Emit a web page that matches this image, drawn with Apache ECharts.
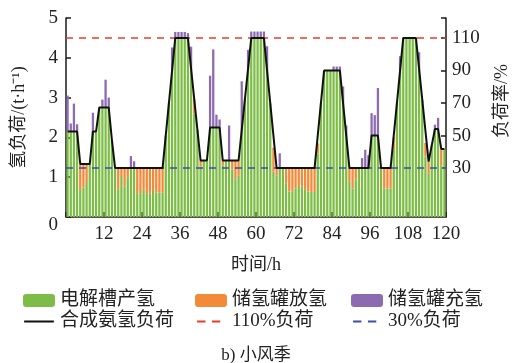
<!DOCTYPE html>
<html>
<head>
<meta charset="utf-8">
<script src="https://cdn.jsdelivr.net/npm/echarts@6/dist/echarts.min.js"></script>
<style>
  html, body { margin: 0; padding: 0; background: #ffffff; }
  #chart { width: 512px; height: 363px; }
</style>
</head>
<body>
<div id="chart"></div>
<script>
// Hourly hydrogen balance over 120 h (small-wind season)
const hours = Array.from({ length: 120 }, (_, i) => i + 1);

// Electrolyzer output serving the load (t/h)
const electrolyzer = [
  2.15, 2.15, 2.15, 2.15, 0.68, 0.74, 0.88, 1.33, 2.15, 2.15,
  2.75, 2.75, 2.75, 2.75, 1.93, 1.23, 0.70, 1.03, 0.77, 1.00,
  1.23, 1.23, 0.60, 0.60, 0.70, 0.60, 0.58, 0.68, 0.62, 0.62,
  0.62, 2.05, 2.86, 3.68, 4.50, 4.50, 4.50, 4.50, 4.50, 3.73,
  2.60, 2.19, 1.27, 1.42, 1.42, 2.25, 2.25, 2.25, 2.25, 1.30,
  1.42, 1.42, 1.20, 0.95, 1.05, 2.19, 2.96, 3.73, 4.50, 4.50,
  4.50, 4.50, 4.50, 3.68, 2.86, 1.14, 1.05, 1.23, 1.23, 0.85,
  0.64, 0.65, 0.72, 0.80, 0.76, 0.70, 0.64, 0.63, 0.63, 1.60,
  2.86, 3.68, 3.68, 3.68, 3.68, 3.68, 3.68, 2.86, 2.05, 0.90,
  0.72, 0.95, 1.23, 1.23, 1.23, 1.23, 2.05, 2.05, 2.05, 1.23,
  0.72, 0.72, 0.72, 1.70, 2.86, 3.68, 4.50, 4.50, 4.50, 4.50,
  4.50, 3.73, 2.95, 1.52, 1.10, 1.80, 2.21, 2.21, 1.30, 1.71
];

// Hydrogen released from the storage tank (t/h)
const tankDischarge = [
  0, 0, 0, 0, 0.65, 0.59, 0.45, 0, 0, 0,
  0, 0, 0, 0, 0, 0, 0.53, 0.20, 0.46, 0.23,
  0, 0, 0.63, 0.63, 0.53, 0.63, 0.65, 0.55, 0.61, 0.61,
  0.61, 0, 0, 0, 0, 0, 0, 0, 0, 0,
  0.36, 0, 0.15, 0, 0, 0, 0, 0, 0, 0.12,
  0, 0, 0.22, 0.47, 0.37, 0, 0, 0, 0, 0,
  0, 0, 0, 0, 0, 0.60, 0.18, 0, 0, 0.38,
  0.59, 0.58, 0.51, 0.43, 0.47, 0.53, 0.59, 0.60, 0.60, 0.25,
  0, 0, 0, 0, 0, 0, 0, 0, 0, 0.33,
  0.51, 0.28, 0, 0, 0, 0, 0, 0, 0, 0,
  0.51, 0.51, 0.51, 0.30, 0, 0, 0, 0, 0, 0,
  0, 0, 0, 0.34, 0.29, 0, 0, 0, 0.41, 0
];

// Surplus hydrogen charged into the storage tank (t/h)
const tankCharge = [
  0.90, 0.20, 0.70, 0.18, 0, 0, 0, 0, 0.47, 0,
  0, 0.20, 0.70, 0.25, 0, 0, 0, 0, 0, 0,
  0.30, 0.17, 0, 0, 0, 0, 0, 0, 0, 0,
  0, 0, 0, 0.58, 0.15, 0.15, 0.15, 0.15, 0.12, 0.55,
  0, 0, 0, 0, 0, 1.30, 1.96, 0.32, 0.20, 0,
  0, 0.88, 0, 0, 0, 1.22, 0, 0.47, 0.16, 0.16,
  0.16, 0.16, 0.16, 0.61, 0, 0, 0, 0.37, 0, 0,
  0, 0, 0, 0, 0, 0, 0, 0, 0, 0,
  0, 0, 0, 0, 0.10, 0.10, 0.10, 0.42, 0.25, 0,
  0, 0, 0, 0.25, 0.46, 0.32, 0.56, 0.51, 1.19, 0,
  0, 0, 0, 0, 0, 0.36, 0, 0, 0, 0,
  0, 0.41, 0, 0, 0, 0, 0.11, 0.28, 0, 0
];

// Hydrogen demand of the ammonia synthesis unit (t/h)
const ammoniaLoad = [
  2.15, 2.15, 2.15, 2.15, 1.33, 1.33, 1.33, 1.33, 2.15, 2.15,
  2.75, 2.75, 2.75, 2.75, 1.93, 1.23, 1.23, 1.23, 1.23, 1.23,
  1.23, 1.23, 1.23, 1.23, 1.23, 1.23, 1.23, 1.23, 1.23, 1.23,
  1.23, 2.05, 2.86, 3.68, 4.50, 4.50, 4.50, 4.50, 4.50, 3.73,
  2.96, 2.19, 1.42, 1.42, 1.42, 2.25, 2.25, 2.25, 2.25, 1.42,
  1.42, 1.42, 1.42, 1.42, 1.42, 2.19, 2.96, 3.73, 4.50, 4.50,
  4.50, 4.50, 4.50, 3.68, 2.86, 2.05, 1.23, 1.23, 1.23, 1.23,
  1.23, 1.23, 1.23, 1.23, 1.23, 1.23, 1.23, 1.23, 1.23, 2.05,
  2.86, 3.68, 3.68, 3.68, 3.68, 3.68, 3.68, 2.86, 2.05, 1.23,
  1.23, 1.23, 1.23, 1.23, 1.23, 1.23, 2.05, 2.05, 2.05, 1.23,
  1.23, 1.23, 1.23, 2.05, 2.86, 3.68, 4.50, 4.50, 4.50, 4.50,
  4.50, 3.73, 2.95, 2.17, 1.39, 1.80, 2.21, 2.21, 1.71, 1.71
];

// Load-rate limits (%) and the rated load of the synthesis unit (t/h)
const upperRate = 110;
const lowerRate = 30;
const ratedLoad = 4.09;
const leftMax = 5;
const rateTicks = [30, 50, 70, 90, 110];
const rightMax = leftMax / ratedLoad * 100;

const serif = '"Liberation Serif", "Noto Sans CJK SC", serif';
const textColor = '#222222';
const axisColor = '#1a1a1a';

// Legend glyphs for the line entries: a solid stroke and a two-dash stroke,
// framed by tiny corner marks so the stroke keeps its thickness when scaled.
const frame = 'M0,0L0.2,0L0.2,0.2Z M31.8,14L32,14L32,13.8Z ';
const solidIcon = 'path://' + frame + 'M0,6H32V8H0Z';
const dashIcon = 'path://' + frame + 'M1,6H10V8H1Z M17,6H26V8H17Z';

const chart = echarts.init(document.getElementById('chart'), null, { renderer: 'canvas' });

const legendBase = {
  orient: 'vertical',
  top: 286,
  itemWidth: 32,
  itemHeight: 13,
  itemGap: 2,
  textStyle: { fontFamily: serif, fontSize: 19, color: textColor }
};

chart.setOption({
  animation: false,
  backgroundColor: '#ffffff',
  title: {
    text: 'b) 小风季',
    left: 'center',
    top: 342,
    textStyle: { fontFamily: serif, fontSize: 17, fontWeight: 'normal', color: textColor }
  },
  legend: [
    Object.assign({ left: 18, data: ['电解槽产氢', { name: '合成氨氢负荷', icon: solidIcon }] }, legendBase),
    Object.assign({ left: 190, data: ['储氢罐放氢', { name: '110%负荷', icon: dashIcon }] }, legendBase),
    Object.assign({ left: 346, data: ['储氢罐充氢', { name: '30%负荷', icon: dashIcon }] }, legendBase)
  ],
  grid: { left: 66, right: 66, top: 18, bottom: 146, outerBoundsMode: 'none' },
  xAxis: [
    { type: 'category', data: hours, show: false, boundaryGap: true },
    {
      type: 'value', min: 0, max: 120, interval: 12, position: 'bottom',
      name: '时间/h', nameLocation: 'middle', nameGap: 39,
      nameTextStyle: { fontFamily: serif, fontSize: 18, color: textColor },
      axisLine: { show: true, lineStyle: { color: axisColor, width: 1.5 } },
      axisTick: { show: true, inside: true, length: 5, lineStyle: { color: axisColor, width: 1.5 } },
      axisLabel: {
        margin: 8, fontFamily: serif, fontSize: 19, color: textColor,
        formatter: v => (v === 0 ? '' : String(v))
      },
      splitLine: { show: false }
    }
  ],
  yAxis: [
    {
      type: 'value', min: 0, max: leftMax, interval: 1,
      name: '氢负荷/(t·h⁻¹)', nameLocation: 'middle', nameRotate: 90, nameGap: 38,
      nameTextStyle: { fontFamily: serif, fontSize: 18, color: textColor },
      axisLine: { show: true, lineStyle: { color: axisColor, width: 1.5 } },
      axisTick: { show: true, inside: true, length: 5, lineStyle: { color: axisColor, width: 1.5 } },
      axisLabel: {
        margin: 8, fontFamily: serif, fontSize: 19, color: textColor,
        formatter: v => (v === 0 ? '{z|0}' : String(v)),
        rich: { z: { fontFamily: serif, fontSize: 19, color: textColor, padding: [16, 0, 0, 0] } }
      },
      splitLine: { show: false }
    },
    {
      type: 'value', min: 0, max: rightMax, position: 'right',
      name: '负荷率/%', nameLocation: 'middle', nameRotate: 90, nameGap: 47,
      nameTextStyle: { fontFamily: serif, fontSize: 18, color: textColor, padding: [0, 0, 0, 33] },
      axisLine: { show: true, lineStyle: { color: axisColor, width: 1.5 } },
      axisTick: {
        show: true, inside: true, length: 5, customValues: rateTicks.concat([rightMax]),
        lineStyle: { color: axisColor, width: 1.5 }
      },
      axisLabel: { margin: 6, fontFamily: serif, fontSize: 19, color: textColor, customValues: rateTicks },
      splitLine: { show: false }
    }
  ],
  series: [
    {
      name: '电解槽产氢', type: 'bar', stack: 'h2', xAxisIndex: 0, yAxisIndex: 0,
      barCategoryGap: '28%', data: electrolyzer,
      itemStyle: { color: '#7dbd47' }
    },
    {
      name: '储氢罐放氢', type: 'bar', stack: 'h2', xAxisIndex: 0, yAxisIndex: 0,
      data: tankDischarge, itemStyle: { color: '#f28a3a' }
    },
    {
      name: '储氢罐充氢', type: 'bar', stack: 'h2', xAxisIndex: 0, yAxisIndex: 0,
      data: tankCharge, itemStyle: { color: '#8d6bb1' }
    },
    {
      name: '合成氨氢负荷', type: 'line', xAxisIndex: 0, yAxisIndex: 0,
      data: ammoniaLoad, symbol: 'none', z: 5,
      lineStyle: { color: '#111111', width: 2 }, itemStyle: { color: '#111111' }
    },
    {
      name: '110%负荷', type: 'line', xAxisIndex: 0, yAxisIndex: 1, data: [], symbol: 'none',
      lineStyle: { color: '#ec3b2e', width: 1.5, type: [7, 6] }, itemStyle: { color: '#ec3b2e' },
      markLine: {
        silent: true, symbol: 'none', label: { show: false },
        lineStyle: { color: '#ec3b2e', width: 1.5, type: [7, 6] },
        data: [{ yAxis: upperRate }]
      }
    },
    {
      name: '30%负荷', type: 'line', xAxisIndex: 0, yAxisIndex: 1, data: [], symbol: 'none',
      lineStyle: { color: '#3d4ea6', width: 1.5, type: [7, 6] }, itemStyle: { color: '#3d4ea6' },
      markLine: {
        silent: true, symbol: 'none', label: { show: false },
        lineStyle: { color: '#3d4ea6', width: 1.5, type: [7, 6] },
        data: [{ yAxis: lowerRate }]
      }
    }
  ]
});
</script>
</body>
</html>
